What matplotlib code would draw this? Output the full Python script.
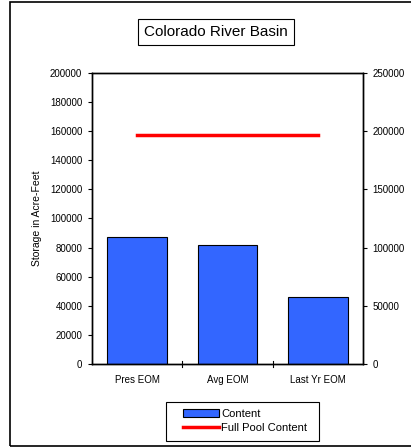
import matplotlib
matplotlib.use("Agg")
import matplotlib.pyplot as plt
from matplotlib.patches import Rectangle

plt.rcParams["font.family"] = ["Liberation Sans", "DejaVu Sans"]

categories = ["Pres EOM", "Avg EOM", "Last Yr EOM"]
content = [87100, 81600, 46100]
full_pool = [157400, 157400, 157400]
left_ticks = list(range(0, 200001, 20000))
right_ticks = list(range(0, 250001, 50000))

fig = plt.figure(figsize=(4.11, 4.48), dpi=100)
W, H = 411, 448

# outer chart border
fig.patches.append(Rectangle((10 / W, 2 / H), 1.2, 444 / H, transform=fig.transFigure,
                             fill=False, edgecolor="black", linewidth=1.2))

ax = fig.add_axes([92 / W, (H - 364) / H, 271 / W, 291 / H])
x = list(range(len(categories)))
bars = ax.bar(x, content, width=0.66, color="#3366ff", edgecolor="black", linewidth=0.8,
              label="Content", zorder=2)
line, = ax.plot(x, full_pool, color="red", linewidth=2.5, label="Full Pool Content", zorder=3)

ax.set_xlim(-0.5, 2.5)
ax.set_ylim(0, 200000)
ax.set_yticks(left_ticks)
ax.set_yticklabels([str(t) for t in left_ticks], fontsize=7)
ax.set_xticks(x)
ax.set_xticklabels(categories, fontsize=7)
ax.tick_params(axis="x", length=0, pad=8)
ax.tick_params(axis="y", length=3, direction="out", pad=4)
for b in [0.5, 1.5]:
    ax.axvline(b, ymin=-0.01, ymax=0.01, color="black", linewidth=0.8, clip_on=False)
ax.set_ylabel("Storage in Acre-Feet", fontsize=7.5, labelpad=6)

ax2 = ax.twinx()
ax2.set_ylim(0, 250000)
ax2.set_yticks(right_ticks)
ax2.set_yticklabels([str(t) for t in right_ticks], fontsize=7)
ax2.tick_params(axis="y", length=3, direction="out", pad=4)

for a in (ax, ax2):
    for s in a.spines.values():
        s.set_linewidth(1.0)

fig.text(216 / W, (H - 32) / H, "Colorado River Basin", fontsize=11, ha="center", va="center",
         bbox=dict(boxstyle="square,pad=0.4", facecolor="white", edgecolor="black", linewidth=0.8))

# legend with its own frame, wider than the entries as in the original
fig.patches.append(Rectangle((166 / W, (H - 441) / H), 153 / W, 39 / H, transform=fig.transFigure,
                             fill=True, facecolor="white", edgecolor="black", linewidth=0.8))
fig.legend(handles=[bars, line], labels=["Content", "Full Pool Content"],
           loc="center", bbox_to_anchor=(245 / W, (H - 421) / H), fontsize=8,
           frameon=False, borderpad=0.2,
           handlelength=3.2, handletextpad=0.2, labelspacing=0.35)

fig.savefig("out.png", dpi=100)
